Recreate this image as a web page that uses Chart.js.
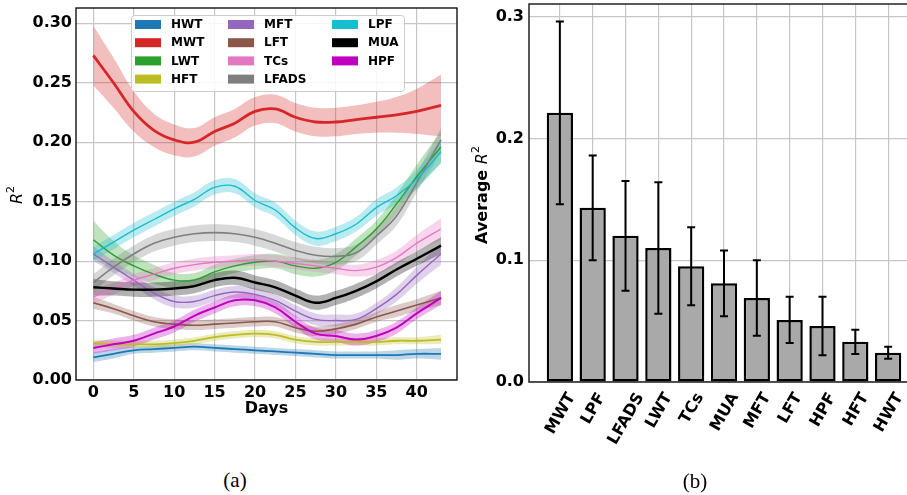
<!DOCTYPE html>
<html>
<head>
<meta charset="utf-8">
<script src="https://cdn.jsdelivr.net/npm/chart.js@4.4.1/dist/chart.umd.min.js"></script>
<style>
  html, body { margin: 0; padding: 0; background: #fff; width: 907px; height: 495px; overflow: hidden; position: relative; }
  #left { position: absolute; left: 0; top: 0; }
  #right { position: absolute; left: 460px; top: 0; }
  .cap { position: absolute; font-family: "Liberation Serif", serif; font-size: 21px; color: #000; transform: translate(-50%, -50%); }
</style>
</head>
<body>
<canvas id="left" width="460" height="430"></canvas>
<canvas id="right" width="459" height="480"></canvas>
<div class="cap" style="left:235px; top:480px;">(a)</div>
<div class="cap" style="left:695px; top:481px;">(b)</div>
<script>
// ---- (a) R^2 over days, mean and band half-width per feature ----
const days = [0, 2.5, 5, 7.5, 10, 12.5, 15, 17.5, 20, 22.5, 25, 27.5, 30, 32.5, 35, 37.5, 40, 43];

const hwt   = [0.019, 0.022, 0.025, 0.026, 0.027, 0.028, 0.027, 0.026, 0.025, 0.024, 0.023, 0.022, 0.021, 0.021, 0.021, 0.021, 0.022, 0.022];
const mwt   = [0.273, 0.250, 0.226, 0.210, 0.202, 0.200, 0.209, 0.216, 0.226, 0.228, 0.221, 0.217, 0.217, 0.219, 0.221, 0.223, 0.226, 0.231];
const lwt   = [0.118, 0.105, 0.096, 0.089, 0.084, 0.084, 0.091, 0.096, 0.099, 0.100, 0.096, 0.094, 0.099, 0.112, 0.127, 0.148, 0.171, 0.196];
const hft   = [0.031, 0.030, 0.030, 0.030, 0.031, 0.033, 0.036, 0.038, 0.039, 0.038, 0.034, 0.032, 0.032, 0.032, 0.032, 0.033, 0.033, 0.034];
const mft   = [0.106, 0.095, 0.084, 0.073, 0.066, 0.066, 0.071, 0.074, 0.072, 0.067, 0.058, 0.051, 0.050, 0.051, 0.060, 0.072, 0.088, 0.106];
const lft   = [0.065, 0.060, 0.054, 0.049, 0.047, 0.046, 0.047, 0.048, 0.049, 0.049, 0.044, 0.041, 0.043, 0.047, 0.053, 0.058, 0.063, 0.069];
const tcs   = [0.070, 0.077, 0.084, 0.089, 0.094, 0.097, 0.099, 0.100, 0.101, 0.100, 0.098, 0.096, 0.094, 0.092, 0.095, 0.103, 0.115, 0.127];
const lfads = [0.082, 0.095, 0.106, 0.115, 0.120, 0.123, 0.124, 0.123, 0.120, 0.115, 0.109, 0.105, 0.104, 0.107, 0.121, 0.138, 0.166, 0.202];
const lpf   = [0.106, 0.116, 0.126, 0.135, 0.144, 0.152, 0.162, 0.163, 0.151, 0.143, 0.128, 0.119, 0.123, 0.131, 0.145, 0.155, 0.169, 0.192];
const mua   = [0.078, 0.077, 0.076, 0.076, 0.077, 0.079, 0.084, 0.086, 0.082, 0.078, 0.071, 0.065, 0.069, 0.075, 0.083, 0.093, 0.102, 0.113];
const hpf   = [0.027, 0.030, 0.033, 0.039, 0.045, 0.054, 0.061, 0.067, 0.067, 0.061, 0.049, 0.039, 0.037, 0.034, 0.037, 0.044, 0.056, 0.069];

const hwtBand   = [0.004, 0.004, 0.003, 0.003, 0.003, 0.003, 0.003, 0.003, 0.003, 0.003, 0.003, 0.003, 0.003, 0.003, 0.003, 0.004, 0.004, 0.005];
const mwtBand   = [0.025, 0.021, 0.017, 0.014, 0.013, 0.012, 0.012, 0.012, 0.012, 0.012, 0.012, 0.012, 0.012, 0.012, 0.013, 0.015, 0.019, 0.026];
const lwtBand   = [0.016, 0.012, 0.009, 0.008, 0.006, 0.006, 0.006, 0.006, 0.006, 0.006, 0.007, 0.007, 0.007, 0.007, 0.007, 0.008, 0.010, 0.013];
const hftBand   = [0.003, 0.003, 0.003, 0.003, 0.003, 0.003, 0.003, 0.003, 0.003, 0.003, 0.003, 0.003, 0.003, 0.003, 0.003, 0.003, 0.003, 0.004];
const mftBand   = [0.006, 0.005, 0.005, 0.005, 0.005, 0.005, 0.005, 0.005, 0.005, 0.005, 0.005, 0.005, 0.005, 0.005, 0.005, 0.006, 0.007, 0.009];
const lftBand   = [0.005, 0.004, 0.004, 0.004, 0.004, 0.004, 0.004, 0.004, 0.004, 0.004, 0.004, 0.004, 0.004, 0.004, 0.004, 0.005, 0.005, 0.006];
const tcsBand   = [0.006, 0.005, 0.005, 0.005, 0.005, 0.005, 0.005, 0.005, 0.005, 0.005, 0.005, 0.005, 0.005, 0.005, 0.006, 0.006, 0.007, 0.009];
const lfadsBand = [0.007, 0.007, 0.007, 0.007, 0.007, 0.007, 0.007, 0.007, 0.007, 0.007, 0.007, 0.007, 0.007, 0.007, 0.007, 0.008, 0.008, 0.010];
const lpfBand   = [0.006, 0.006, 0.006, 0.006, 0.006, 0.006, 0.006, 0.006, 0.006, 0.006, 0.006, 0.006, 0.006, 0.006, 0.007, 0.007, 0.008, 0.010];
const muaBand   = [0.007, 0.006, 0.006, 0.006, 0.006, 0.006, 0.006, 0.006, 0.006, 0.006, 0.006, 0.006, 0.006, 0.006, 0.006, 0.006, 0.006, 0.007];
const hpfBand   = [0.005, 0.005, 0.005, 0.005, 0.005, 0.005, 0.005, 0.005, 0.005, 0.005, 0.005, 0.005, 0.005, 0.005, 0.005, 0.005, 0.005, 0.006];

const seriesNames = ['HWT', 'MWT', 'LWT', 'HFT', 'MFT', 'LFT', 'TCs', 'LFADS', 'LPF', 'MUA', 'HPF'];
const seriesMeans = [hwt, mwt, lwt, hft, mft, lft, tcs, lfads, lpf, mua, hpf];
const seriesBands = [hwtBand, mwtBand, lwtBand, hftBand, mftBand, lftBand, tcsBand, lfadsBand, lpfBand, muaBand, hpfBand];
const seriesColors = ['#1f77b4', '#d62728', '#2ca02c', '#bcbd22', '#9467bd', '#8c564b', '#e377c2', '#7f7f7f', '#17becf', '#000000', '#bf00bf'];
const seriesWidths = [1.8, 2.8, 1.4, 1.8, 1.4, 1.6, 1.4, 1.6, 1.4, 2.4, 2.0];

// ---- (b) average R^2 per feature ----
const barLabels = ['MWT', 'LPF', 'LFADS', 'LWT', 'TCs', 'MUA', 'MFT', 'LFT', 'HPF', 'HFT', 'HWT'];
const barMeans  = [0.221, 0.143, 0.120, 0.110, 0.095, 0.081, 0.069, 0.051, 0.046, 0.033, 0.024];
const barErrors = [0.075, 0.043, 0.045, 0.054, 0.032, 0.027, 0.031, 0.019, 0.024, 0.010, 0.005];

const FONT = '"DejaVu Sans", sans-serif';
const tickFont = { family: FONT, size: 16, weight: 'bold' };
const gridColor = '#c6c6c6';

function hexA(hex, a) {
    const n = parseInt(hex.slice(1), 16);
    return `rgba(${(n >> 16) & 255}, ${(n >> 8) & 255}, ${n & 255}, ${a})`;
}

// no auto padding for labels sitting near the edges
function noEdgePad(s) {
    s.paddingTop = 0; s.paddingBottom = 0; s.paddingLeft = 0; s.paddingRight = 0;
}

// y label with mixed fonts, rotated
function drawYTitle(ctx, cx, cy, parts) {
    ctx.save();
    let total = 0;
    parts.forEach(p => { ctx.font = p.font; p.w = ctx.measureText(p.text).width; total += p.w; });
    ctx.translate(cx, cy);
    ctx.rotate(-Math.PI / 2);
    ctx.fillStyle = '#000';
    ctx.textBaseline = 'middle';
    ctx.textAlign = 'left';
    let x = -total / 2;
    parts.forEach(p => {
        ctx.font = p.font;
        ctx.fillText(p.text, x, p.dy || 0);
        x += p.w;
    });
    ctx.restore();
}

const framePlugin = {
    id: 'frame',
    afterDraw(chart, args, opts) {
        const { ctx, chartArea: a } = chart;
        ctx.save();
        ctx.strokeStyle = opts.color || '#000';
        ctx.lineWidth = opts.width || 1.3;
        ctx.strokeRect(a.left, a.top, a.right - a.left, a.bottom - a.top);
        ctx.restore();
    }
};

const leftExtras = {
    id: 'leftExtras',
    afterDraw(chart) {
        const { ctx } = chart;
        // legend box, column-major like matplotlib
        ctx.save();
        const bx = 131, by = 15, bw = 273, bh = 76;
        ctx.fillStyle = 'rgba(255,255,255,0.85)';
        ctx.strokeStyle = '#cccccc';
        ctx.lineWidth = 1;
        ctx.beginPath();
        ctx.roundRect(bx + 0.5, by + 0.5, bw, bh, 3);
        ctx.fill();
        ctx.stroke();
        const colX = [135, 228, 332];
        ctx.font = 'bold 12px ' + FONT;
        ctx.textBaseline = 'middle';
        ctx.textAlign = 'left';
        seriesNames.forEach((name, i) => {
            const col = Math.floor(i / 4), row = i % 4;
            const x = colX[col], y = 24.5 + row * 18.2;
            ctx.fillStyle = seriesColors[i];
            ctx.fillRect(x, y - 4.5, 26, 9);
            ctx.fillStyle = '#000';
            ctx.fillText(name, x + 36, y + 0.5);
        });
        ctx.restore();
        drawYTitle(ctx, 18, 195, [
            { text: 'R', font: 'italic 16px ' + FONT },
            { text: '2', font: '11px ' + FONT, dy: -7 }
        ]);
    }
};

// build band + line datasets
const lineDatasets = [];
seriesNames.forEach((name, i) => {
    const m = seriesMeans[i], b = seriesBands[i], c = seriesColors[i];
    lineDatasets.push({
        label: name + ' lower',
        data: days.map((d, k) => ({ x: d, y: m[k] - b[k] })),
        borderWidth: 0, pointRadius: 0, fill: false,
        tension: 0.4, order: 100 - i
    });
    lineDatasets.push({
        label: name + ' upper',
        data: days.map((d, k) => ({ x: d, y: m[k] + b[k] })),
        borderWidth: 0, pointRadius: 0, fill: '-1',
        backgroundColor: hexA(c, 0.3),
        tension: 0.4, order: 100 - i
    });
    lineDatasets.push({
        label: name,
        data: days.map((d, k) => ({ x: d, y: m[k] })),
        borderColor: c, borderWidth: seriesWidths[i], pointRadius: 0, fill: false,
        tension: 0.4, order: 50 - i
    });
});

new Chart(document.getElementById('left'), {
    type: 'line',
    data: { datasets: lineDatasets },
    options: {
        responsive: false,
        animation: false,
        layout: { padding: { top: 8, right: 3, bottom: 12, left: 0 } },
        plugins: {
            legend: { display: false },
            tooltip: { enabled: false },
            frame: { color: '#000', width: 1.3 }
        },
        scales: {
            x: {
                type: 'linear', min: -2.14, max: 44.98,
                ticks: { stepSize: 5, includeBounds: false, font: tickFont, color: '#000', padding: 3, maxRotation: 0 },
                grid: { color: gridColor, drawTicks: false, lineWidth: 1.2 },
                border: { display: false },
                title: { display: true, text: 'Days', font: tickFont, color: '#000', padding: 0 },
                afterFit: s => { s.height = 38; noEdgePad(s); }
            },
            y: {
                type: 'linear', min: 0, max: 0.3129,
                ticks: { stepSize: 0.05, includeBounds: false, font: tickFont, color: '#000', padding: 4,
                         callback: v => v.toFixed(2) },
                grid: { color: gridColor, drawTicks: false, lineWidth: 1.2 },
                border: { display: false },
                afterFit: s => { s.width = 76; noEdgePad(s); }
            }
        }
    },
    plugins: [framePlugin, leftExtras]
});

const rightExtras = {
    id: 'rightExtras',
    afterDatasetsDraw(chart) {
        const { ctx, scales: { x, y } } = chart;
        ctx.save();
        ctx.strokeStyle = '#000';
        ctx.lineWidth = 2;
        barMeans.forEach((v, i) => {
            const px = x.getPixelForValue(i);
            const top = y.getPixelForValue(v + barErrors[i]);
            const bot = y.getPixelForValue(v - barErrors[i]);
            ctx.beginPath();
            ctx.moveTo(px, top); ctx.lineTo(px, bot);
            ctx.moveTo(px - 4, top); ctx.lineTo(px + 4, top);
            ctx.moveTo(px - 4, bot); ctx.lineTo(px + 4, bot);
            ctx.stroke();
        });
        ctx.restore();
    },
    afterDraw(chart) {
        const { ctx, scales: { x }, chartArea } = chart;
        const ang = Math.PI / 3;
        ctx.save();
        ctx.font = 'bold 16px ' + FONT;
        ctx.fillStyle = '#000';
        ctx.textAlign = 'center';
        ctx.textBaseline = 'middle';
        barLabels.forEach((lab, i) => {
            const w = ctx.measureText(lab).width, h = 12;
            const bh = w * Math.sin(ang) + h * Math.cos(ang);
            ctx.save();
            ctx.translate(x.getPixelForValue(i), chartArea.bottom + 9 + bh / 2);
            ctx.rotate(-ang);
            ctx.fillText(lab, 0, 1);
            ctx.restore();
        });
        ctx.restore();
        drawYTitle(ctx, 23, 195, [
            { text: 'Average ', font: 'bold 16px ' + FONT },
            { text: 'R', font: 'italic 16px ' + FONT },
            { text: '2', font: '11px ' + FONT, dy: -7 }
        ]);
    }
};

new Chart(document.getElementById('right'), {
    type: 'bar',
    data: {
        datasets: [{
            data: barMeans.map((v, i) => ({ x: i, y: v })),
            backgroundColor: '#a9a9a9',
            borderColor: '#000',
            borderWidth: 2.5,
            borderSkipped: false,
            barPercentage: 0.8,
            categoryPercentage: 1
        }]
    },
    options: {
        responsive: false,
        animation: false,
        layout: { padding: { top: 4, right: 0, bottom: 0, left: 0 } },
        plugins: {
            legend: { display: false },
            tooltip: { enabled: false },
            frame: { color: '#222', width: 1.5 }
        },
        scales: {
            x: {
                type: 'linear', min: -0.94, max: 10.94, offset: false,
                ticks: { stepSize: 1, includeBounds: false, display: false },
                grid: { color: gridColor, drawTicks: false, offset: false, lineWidth: 1.2 },
                border: { display: false },
                afterFit: s => { s.height = 98; noEdgePad(s); }
            },
            y: {
                type: 'linear', min: 0, max: 0.3104,
                ticks: { stepSize: 0.1, includeBounds: false, font: tickFont, color: '#000', padding: 5,
                         callback: v => v.toFixed(1) },
                grid: { color: gridColor, drawTicks: false, lineWidth: 1.2 },
                border: { display: false },
                afterFit: s => { s.width = 69; noEdgePad(s); }
            }
        }
    },
    plugins: [framePlugin, rightExtras]
});
</script>
</body>
</html>
